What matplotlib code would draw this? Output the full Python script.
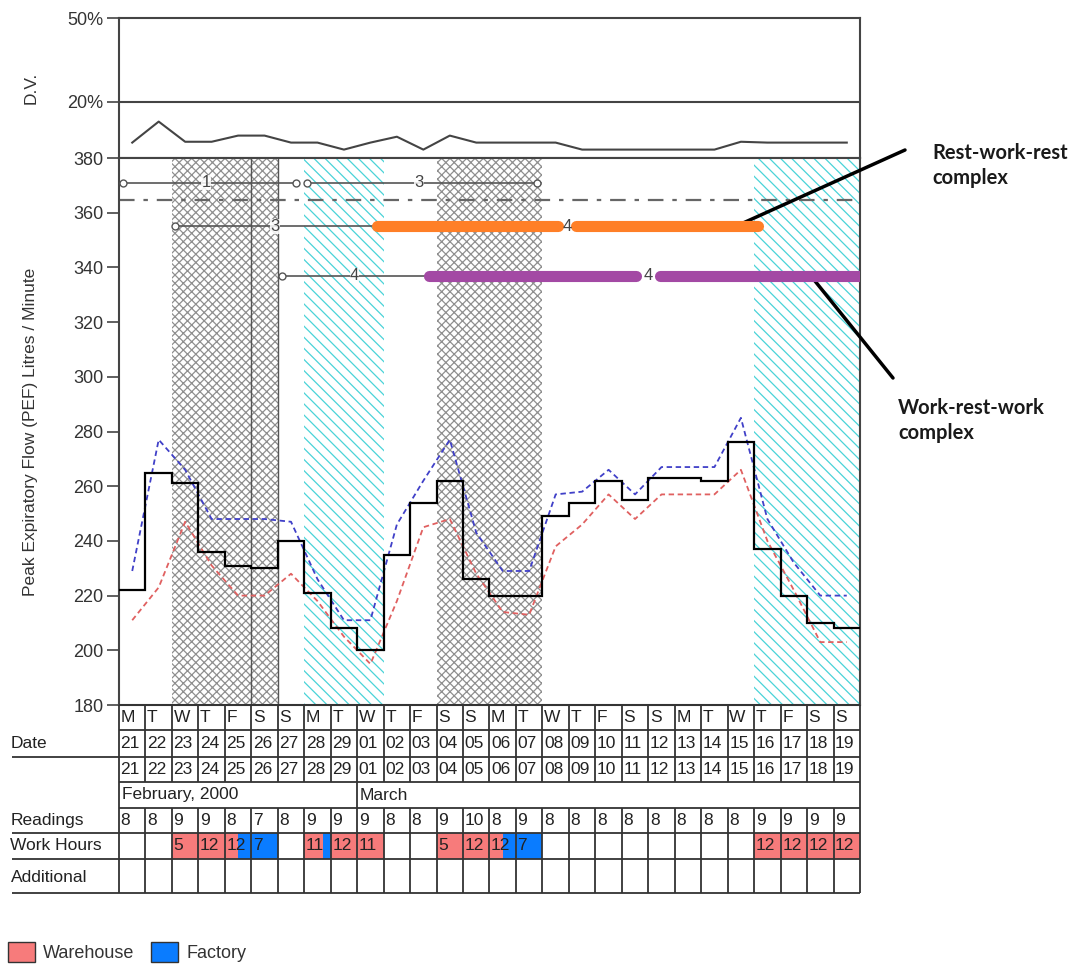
"""Peak expiratory flow record with work-hours table (occupational asthma chart)."""

import matplotlib
matplotlib.use("Agg")
import matplotlib.pyplot as plt
import numpy as np
from matplotlib.patches import Patch

plt.rcParams["font.family"] = ["Liberation Sans", "DejaVu Sans"]
plt.rcParams["hatch.linewidth"] = 0.9

NARROW = ["Liberation Sans Narrow", "Liberation Sans", "DejaVu Sans"]

# ---- colours ----
C_FRAME = "#444444"
C_INK = "#222222"
C_GREY_HATCH = "#8f8f8f"
C_CYAN = "#4ad3d8"
C_ORANGE = "#ff7f27"
C_PURPLE = "#a349a4"
C_UPPER = "#4040c8"
C_LOWER = "#e06060"
C_WAREHOUSE = "#f77b7b"
C_FACTORY = "#0a7cff"

FIG_W, FIG_H = 1080, 965

# ---- data ----
DAY_LETTERS = list("MTWTFSSMTWTFSSMTWTFSSMTWTFSS")
DATES = ["21", "22", "23", "24", "25", "26", "27", "28", "29",
         "01", "02", "03", "04", "05", "06", "07", "08", "09", "10",
         "11", "12", "13", "14", "15", "16", "17", "18", "19"]
MONTHS = [("February, 2000", 0, 9), ("March", 9, 28)]
READINGS = [8, 8, 9, 9, 8, 7, 8, 9, 9, 9, 8, 8, 9, 10,
            8, 9, 8, 8, 8, 8, 8, 8, 8, 8, 9, 9, 9, 9]
WORK_LABELS = ["", "", "5", "12", "12", "7", "", "11", "12", "11", "", "", "5", "12",
               "12", "7", "", "", "", "", "", "", "", "", "12", "12", "12", "12"]
WAREHOUSE_SHIFTS = [(2.0, 4.5), (7.0, 7.7), (8.0, 10.0), (12.0, 14.5), (24.0, 28.0)]
FACTORY_SHIFTS = [(4.5, 6.0), (7.7, 8.0), (14.5, 16.0)]

# daily mean PEF (step line), daily max / min (dashed)
PEF_MEAN = [222, 265, 261, 236, 231, 230, 240, 221, 208, 200, 235, 254, 262, 226,
            220, 220, 249, 254, 262, 255, 263, 263, 262, 276, 237, 220, 210, 208]
PEF_MAX = [229, 277, 266, 248, 248, 248, 247, 226, 211, 211, 246, 262, 277, 243,
           229, 229, 257, 258, 266, 257, 267, 267, 267, 285, 248, 232, 220, 220]
PEF_MIN = [211, 223, 247, 231, 220, 220, 228, 218, 205, 195, 218, 245, 248, 228,
           214, 213, 238, 246, 257, 248, 257, 257, 257, 266, 240, 222, 203, 203]

# diurnal variation (%)
DV = [5.5, 13, 5.8, 5.8, 8, 8, 5.5, 5.5, 3, 5.5, 7.6, 3, 8, 5.5,
      5.5, 5.5, 5.5, 3, 3, 3, 3, 3, 3, 5.8, 5.5, 5.5, 5.5, 5.5]

# shaded periods (day index start, end)
CROSSHATCH_PERIODS = [(2, 6), (12, 16)]
CYAN_PERIODS = [(7, 10), (24, 28)]
DIVIDER_DAYS = [5, 6]

THRESHOLD_PEF = 364.5

# complexes: (level, thin segments, thick segments, thick colour, thick label)
# thin segment = (start, end, label, label_x)
COMPLEX_ROWS = [
    (371, [(0.15, 6.7, "1", 3.3), (7.1, 15.8, "3", 11.35)], [], None, None),
    (355, [(2.1, 9.74, "3", 5.9)], [(9.74, 16.6), (17.25, 24.15)], C_ORANGE, ("4", 16.92)),
    (337, [(6.15, 11.7, "4", 8.9)], [(11.7, 19.55), (20.45, 28.0)], C_PURPLE, ("4", 20.0)),
]


def px_rect(left, top, right, bottom):
    return [left / FIG_W, 1 - bottom / FIG_H, (right - left) / FIG_W, (bottom - top) / FIG_H]


def style_frame(ax):
    for s in ax.spines.values():
        s.set_color(C_FRAME)
        s.set_linewidth(1.5)
    ax.tick_params(axis="y", length=9, width=1.2, color=C_FRAME, pad=2,
                   labelsize=13, labelcolor="#333333")
    for lab in ax.get_yticklabels():
        lab.set_family(NARROW)
    ax.set_xticks([])


def draw_dv(ax):
    days = np.arange(len(DV)) + 0.5
    ax.set_xlim(0, 28)
    ax.set_ylim(0, 50)
    ax.set_yticks([20, 50])
    ax.set_yticklabels(["20%", "50%"])
    ax.axhline(20, color=C_FRAME, lw=1.5)
    ax.plot(days, DV, color="#444444", lw=1.5)
    style_frame(ax)
    ax.set_ylabel("D.V.", fontsize=12.5, color="#333333")
    ax.yaxis.set_label_coords(-0.109, 0.5)


def draw_pef(ax):
    ax.set_xlim(0, 28)
    ax.set_ylim(180, 380)
    ax.set_yticks(np.arange(180, 381, 20))

    for a, b in CROSSHATCH_PERIODS:
        ax.axvspan(a, b, facecolor="white", edgecolor=C_GREY_HATCH, hatch="xxxx",
                   lw=0, zorder=0)
    for a, b in CYAN_PERIODS:
        ax.axvspan(a, b, facecolor="white", edgecolor=C_CYAN, hatch="\\\\\\",
                   lw=0, zorder=0)
    for d in DIVIDER_DAYS:
        ax.axvline(d, color="#555555", lw=1.0, zorder=1)

    ax.axhline(THRESHOLD_PEF, color="#666666", lw=1.6, ls=(0, (7, 4, 2, 4)), zorder=2)

    for level, thin, thick, colour, thick_label in COMPLEX_ROWS:
        for a, b, lab, lx in thin:
            ax.plot([a, b], [level, level], color="#555555", lw=1.2, marker="o",
                    ms=5, mfc="white", mec="#555555", mew=1.0, zorder=3)
            ax.text(lx, level, lab, ha="center", va="center", fontsize=12,
                    color="#444444", zorder=4,
                    bbox=dict(fc="white", ec="none", pad=0.3, alpha=0.85))
        for a, b in thick:
            ax.plot([a, b], [level, level], color=colour, lw=8,
                    solid_capstyle="round", zorder=5)
        if thick_label:
            ax.text(thick_label[1], level, thick_label[0], ha="center", va="center",
                    fontsize=12, color="#444444", zorder=6)

    centers = np.arange(28) + 0.5
    ax.plot(centers, PEF_MAX, color=C_UPPER, lw=1.3, ls=(0, (3, 2)), zorder=6)
    ax.plot(centers, PEF_MIN, color=C_LOWER, lw=1.3, ls=(0, (3, 2)), zorder=6)
    ax.stairs(PEF_MEAN, np.arange(29), baseline=None, color="black", lw=1.6, zorder=7)

    style_frame(ax)
    ax.set_ylabel("Peak Expiratory Flow (PEF) Litres / Minute", fontsize=12.5,
                  color="#333333")
    ax.yaxis.set_label_coords(-0.109, 0.5)


def draw_table(ax):
    # row edges in pixels below the PEF axis
    edges = [0, 25, 52, 77, 103, 128, 154, 188]
    ax.set_xlim(0, 28)
    ax.set_ylim(188, 0)
    ax.axis("off")

    ax.broken_barh([(a, b - a) for a, b in WAREHOUSE_SHIFTS], (128, 26),
                   facecolors=C_WAREHOUSE, zorder=0)
    ax.broken_barh([(a, b - a) for a, b in FACTORY_SHIFTS], (128, 26),
                   facecolors=C_FACTORY, zorder=0)

    lk = dict(color="#333333", lw=1.3, clip_on=False)
    ax.hlines(edges, 0, 28, **lk)
    ax.hlines([52, 128, 154, 188], -4.05, 0, **lk)
    ax.vlines(np.arange(29), 0, 77, **lk)
    ax.vlines(np.arange(29), 103, 188, **lk)
    ax.vlines([0, 9, 28], 77, 103, **lk)

    cell = dict(ha="left", va="center", fontsize=12.5, color=C_INK, family=NARROW)
    for i in range(28):
        ax.text(i + 0.06, 12.5, DAY_LETTERS[i], **cell)
        ax.text(i + 0.06, 38.5, DATES[i], **cell)
        ax.text(i + 0.06, 64.5, DATES[i], **cell)
        ax.text(i + 0.06, 115.5, str(READINGS[i]), **cell)
        if WORK_LABELS[i]:
            ax.text(i + 0.06, 141, WORK_LABELS[i], **cell)
    for name, a, b in MONTHS:
        ax.text(a + 0.1, 90, name, ha="left", va="center", fontsize=12.5, color=C_INK)

    lab = dict(ha="left", va="center", fontsize=12.5, color=C_INK, clip_on=False)
    ax.text(-4.1, 38.5, "Date", **lab)
    ax.text(-4.1, 115.5, "Readings", **lab)
    ax.text(-4.1, 141, "Work Hours", **lab)
    ax.text(-4.1, 172, "Additional", **lab)


def draw_annotations(fig, ax):
    txt = dict(fontsize=14.5, fontweight="bold", family=["Lato", "DejaVu Sans"],
               color="#1a1a1a", va="top", ha="left", linespacing=1.3)
    fig.text(932 / FIG_W, 1 - 143 / FIG_H, "Rest-work-rest\ncomplex", **txt)
    fig.text(898 / FIG_W, 1 - 398 / FIG_H, "Work-rest-work\ncomplex", **txt)
    arrow = dict(arrowstyle="-", color="black", lw=2.5, shrinkA=0, shrinkB=0)
    ax.annotate("", xy=(23.3, 355), xycoords="data",
                xytext=(905 / FIG_W, 1 - 150 / FIG_H), textcoords="figure fraction",
                arrowprops=arrow, annotation_clip=False)
    ax.annotate("", xy=(26.3, 335), xycoords="data",
                xytext=(893 / FIG_W, 1 - 378 / FIG_H), textcoords="figure fraction",
                arrowprops=arrow, annotation_clip=False)


def main() -> None:
    fig = plt.figure(figsize=(FIG_W / 100, FIG_H / 100), dpi=100)
    ax_dv = fig.add_axes(px_rect(119, 18, 860, 158))
    ax = fig.add_axes(px_rect(119, 158, 860, 705))
    ax_tab = fig.add_axes(px_rect(119, 705, 860, 893))

    draw_dv(ax_dv)
    draw_pef(ax)
    draw_table(ax_tab)
    draw_annotations(fig, ax)

    handles = [Patch(facecolor=C_WAREHOUSE, edgecolor="#333333", label="Warehouse"),
               Patch(facecolor=C_FACTORY, edgecolor="#333333", label="Factory")]
    fig.legend(handles=handles, loc="lower left", bbox_to_anchor=(8 / FIG_W, 3 / FIG_H),
               ncol=2, frameon=False, fontsize=13, handlelength=1.5, handleheight=1.3,
               handletextpad=0.45, columnspacing=0.9, borderpad=0, borderaxespad=0,
               labelcolor="#333333")

    fig.savefig("out.png", dpi=100)
    plt.close(fig)


if __name__ == "__main__":
    main()
